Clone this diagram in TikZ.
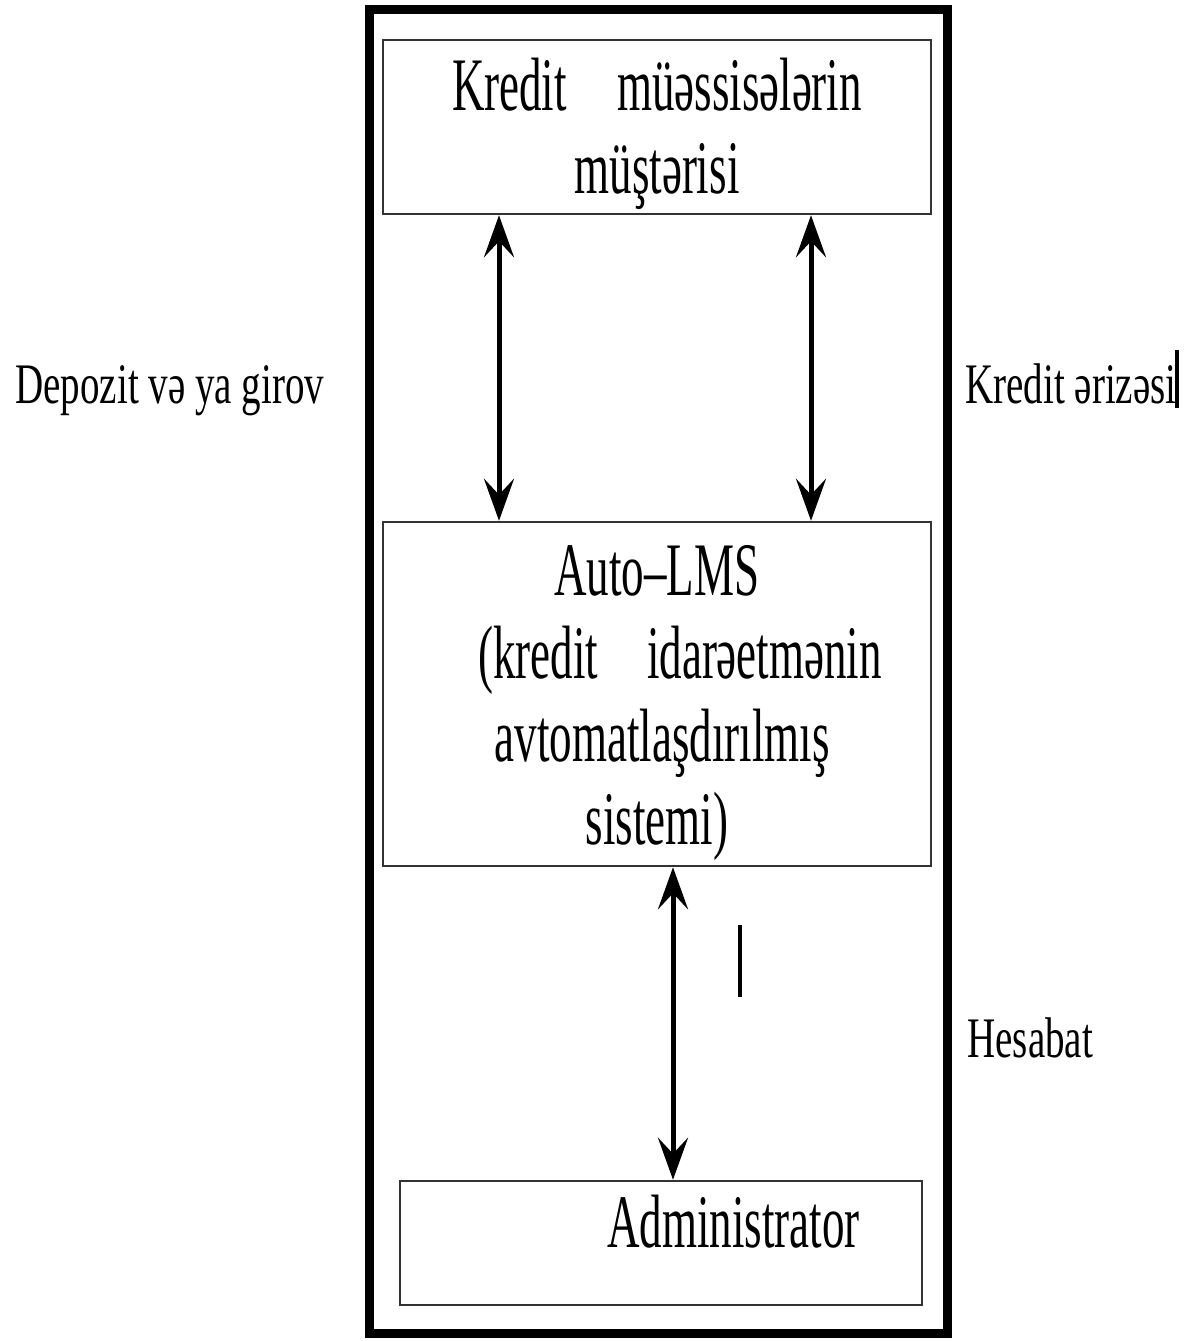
\documentclass[tikz,border=0pt]{standalone}
\usepackage{fontspec}
\setmainfont{Liberation Serif}
\usepackage{graphicx}
\usetikzlibrary{arrows.meta}
\begin{document}
\begin{tikzpicture}[x=0.5pt,y=-0.5pt,
  frame/.style={draw=black, line width=4.5pt, inner sep=0pt},
  box/.style={draw=black!80, line width=1.25pt, inner sep=0pt},
  link/.style={line width=2.5pt,
    {Stealth[length=21pt,width=15pt,inset=8pt]}-{Stealth[length=21pt,width=15pt,inset=8pt]}},
  boxtext/.style={inner sep=0pt, anchor=base, font=\fontsize{22.5}{24.8}\selectfont},
  sidetext/.style={inner sep=0pt, anchor=base west, font=\fontsize{19.5}{23}\selectfont},
  stroke/.style={line width=2pt},
]
\useasboundingbox (0,0) rectangle (1195,1341);

% outer frame and the three blocks
\node[frame, minimum width=289pt, minimum height=662pt] (frame) at (658,671) {};
\node[box, minimum width=274pt, minimum height=87pt] (client) at (657,127) {};
\node[box, minimum width=274pt, minimum height=172pt] (lms) at (657,694) {};
\node[box, minimum width=261pt, minimum height=62pt] (admin) at (661,1243) {};

% block texts
\node[boxtext] (clienttext) at (657,110) {\scalebox{1}[1.68]{\begin{tabular}[t]{@{}c@{}}
  Kredit\hspace{25pt}müəssisələrin\\ müştərisi\end{tabular}}};
\node[boxtext] (lmstext) at (657,595) {\scalebox{1}[1.68]{\begin{tabular}[t]{@{}c@{}}
  Auto–LMS\\
  \hspace*{23pt}(kredit\hspace{24.5pt}idarəetmənin\\
  \hspace*{5pt}avtomatlaşdırılmış\\
  sistemi)\end{tabular}}};
\node[boxtext, anchor=base west] (admintext) at (607,1247) {\scalebox{1}[1.68]{Administrator}};

% side labels
\node[sidetext] (deposit) at (15,403) {\scalebox{1}[1.47]{Depozit və ya girov}};
\node[sidetext] (application) at (965,403) {\scalebox{1}[1.47]{Kredit ərizəsi}};
\node[sidetext] (report) at (967,1057) {\scalebox{1}[1.47]{Hesabat}};

% arrow positions
\coordinate (xl) at (499,0);
\coordinate (xr) at (811,0);
\coordinate (xb) at (673,0);

% connectors
\draw[link] (client.south -| xl) -- (lms.north -| xl);
\draw[link] (client.south -| xr) -- (lms.north -| xr);
\draw[link] (lms.south -| xb) -- (admin.north -| xb);

% stray vertical strokes
\draw[stroke] (740,925) -- (740,997);
\draw[stroke] (1177,350) -- (1177,408);
\end{tikzpicture}
\end{document}
